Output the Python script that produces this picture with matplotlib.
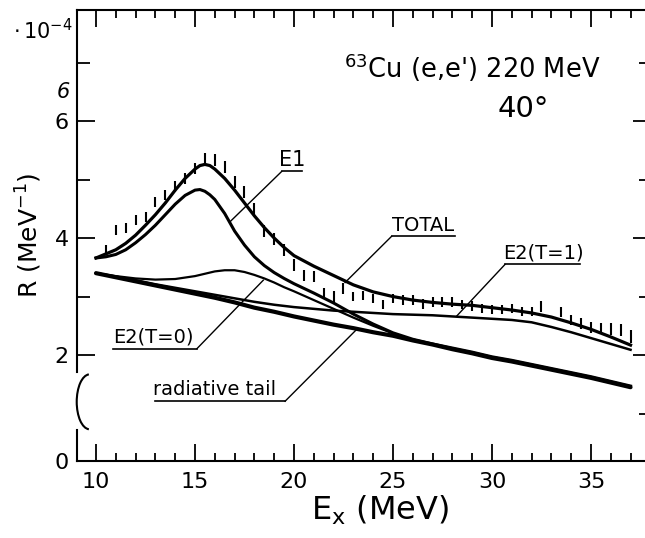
import numpy as np
import matplotlib.pyplot as plt
from matplotlib.patches import Arc

# excitation energy grids (MeV) and R values (units of 1e-4 MeV^-1)
e_fine = [10, 10.5, 11, 11.5, 12, 12.5, 13, 13.5, 14, 14.5, 15, 15.25, 15.5, 15.75, 16, 16.5,
          17, 17.5, 18, 18.5, 19, 19.5, 20, 21, 22, 23, 24, 25, 26, 27, 28, 29, 30, 31,
          32, 33, 34, 35, 36, 37]
r_total = [3.66, 3.73, 3.80, 3.91, 4.05, 4.22, 4.40, 4.60, 4.82, 5.02, 5.18, 5.24, 5.26, 5.24,
           5.18, 5.02, 4.82, 4.60, 4.38, 4.18, 4.00, 3.84, 3.70, 3.52, 3.36, 3.20, 3.08, 3.00,
           2.94, 2.90, 2.87, 2.85, 2.81, 2.77, 2.72, 2.65, 2.55, 2.44, 2.31, 2.17]
r_e1 = [3.66, 3.68, 3.72, 3.80, 3.92, 4.06, 4.22, 4.40, 4.58, 4.73, 4.82, 4.83, 4.80, 4.74,
        4.66, 4.42, 4.12, 3.88, 3.68, 3.53, 3.41, 3.31, 3.22, 3.06, 2.89, 2.70, 2.53, 2.38,
        2.27, 2.19, 2.12, 2.05, 1.97, 1.91, 1.84, 1.77, 1.70, 1.63, 1.55, 1.47]

e_int = [10, 11, 12, 13, 14, 15, 16, 17, 18, 19, 20, 21, 22, 23, 24, 25, 26, 27, 28, 29,
         30, 31, 32, 33, 34, 35, 36, 37]
r_tail = [3.40, 3.33, 3.26, 3.19, 3.12, 3.05, 2.98, 2.90, 2.81, 2.74, 2.66, 2.59, 2.52, 2.46,
          2.39, 2.33, 2.25, 2.18, 2.10, 2.03, 1.95, 1.89, 1.82, 1.75, 1.68, 1.61, 1.53, 1.45]
r_e2t1 = [3.40, 3.34, 3.28, 3.21, 3.15, 3.09, 3.03, 2.97, 2.91, 2.86, 2.82, 2.79, 2.76, 2.74,
          2.72, 2.70, 2.69, 2.68, 2.66, 2.64, 2.62, 2.60, 2.56, 2.48, 2.39, 2.29, 2.19, 2.09]

e_e2t0 = [10, 11, 12, 13, 14, 15, 15.5, 16, 16.5, 17, 17.5, 18, 18.5, 19, 19.5, 20, 21, 22,
          23, 24, 25, 26, 27, 28, 29, 30, 31, 32, 33, 34, 35, 36, 37]
r_e2t0 = [3.40, 3.35, 3.31, 3.29, 3.30, 3.35, 3.39, 3.43, 3.45, 3.45, 3.42, 3.37, 3.31, 3.24,
          3.16, 3.09, 2.94, 2.79, 2.64, 2.50, 2.37, 2.26, 2.18, 2.11, 2.04, 1.96, 1.90, 1.83,
          1.76, 1.69, 1.62, 1.54, 1.46]

# measured points (vertical bars only)
e_data = [10.5, 11, 11.5, 12, 12.5, 13, 13.5, 14, 14.5, 15, 15.5, 16, 16.5, 17, 17.5, 18,
          18.5, 19, 19.5, 20, 20.5, 21, 21.5, 22, 22.5, 23, 23.5, 24, 24.5, 25, 25.5, 26,
          26.5, 27, 27.5, 28, 28.5, 29, 29.5, 30, 30.5, 31, 31.5, 32, 32.5, 33.5, 34, 34.5,
          35, 35.5, 36, 36.5, 37]
r_data = [3.80, 4.14, 4.17, 4.31, 4.36, 4.62, 4.74, 4.88, 5.02, 5.19, 5.36, 5.33, 5.22, 4.96,
          4.79, 4.50, 4.12, 3.98, 3.80, 3.54, 3.36, 3.34, 3.06, 3.00, 3.14, 3.00, 3.02, 2.97,
          2.86, 2.97, 2.94, 2.94, 2.87, 2.91, 2.91, 2.91, 2.86, 2.84, 2.80, 2.78, 2.78, 2.80,
          2.74, 2.74, 2.83, 2.74, 2.60, 2.54, 2.47, 2.45, 2.45, 2.43, 2.31]
r_err = [0.08, 0.09, 0.09, 0.09, 0.09, 0.09, 0.09, 0.09, 0.10, 0.10, 0.10, 0.10, 0.10, 0.10,
         0.10, 0.10, 0.10, 0.10, 0.10, 0.10, 0.09, 0.09, 0.09, 0.09, 0.09, 0.08, 0.08, 0.08,
         0.08, 0.08, 0.08, 0.08, 0.08, 0.08, 0.08, 0.08, 0.08, 0.08, 0.08, 0.08, 0.08, 0.08,
         0.08, 0.08, 0.09, 0.09, 0.09, 0.09, 0.09, 0.09, 0.10, 0.10, 0.11]

x_major = [10, 15, 20, 25, 30, 35]
y_labels = ['0', '2', '4', '6']

fig = plt.figure(figsize=(6.45, 5.38), dpi=100)
ax = fig.add_axes([0.1194, 0.1431, 0.8806, 0.8383])
xmin, xmax = 9.04, 37.73
ymin, ymax = 0.188, 7.90
ax.set_xlim(xmin, xmax)
ax.set_ylim(ymin, ymax)

ax.plot(e_int, r_tail, color='k', lw=3.0, solid_capstyle='round')
ax.plot(e_int, r_e2t1, color='k', lw=1.8)
ax.plot(e_e2t0, r_e2t0, color='k', lw=1.6)
ax.plot(e_fine, r_e1, color='k', lw=2.2)
ax.plot(e_fine, r_total, color='k', lw=2.3)
ax.errorbar(e_data, r_data, yerr=r_err, fmt='none', ecolor='k', elinewidth=1.5, capsize=0)

# spines and ticks
for s in ['right', 'left']:
    ax.spines[s].set_visible(False)
ax.spines['top'].set_linewidth(1.5)
ax.spines['bottom'].set_linewidth(1.5)
ytr = ax.get_yaxis_transform()
ax.plot([0, 0], [ymin, 0.72], transform=ytr, color='k', lw=1.5, clip_on=False)
ax.plot([0, 0], [1.71, ymax], transform=ytr, color='k', lw=1.5, clip_on=False)
ax.add_patch(Arc((9.68, 1.20), 1.31, 0.94, theta1=95, theta2=265, color='k', lw=1.5,
                 clip_on=False))

ax.set_xticks(x_major)
ax.set_xticks(range(10, 38), minor=True)
ax.set_yticks([ymin, 2, 4, 6])
ax.set_yticklabels(y_labels)
ax.set_yticks([3, 5, 7], minor=True)
ax.tick_params(axis='x', which='both', direction='in', top=True, width=1.3, labelsize=16,
               pad=8)
ax.tick_params(axis='x', which='major', length=12)
ax.tick_params(axis='x', which='minor', length=6)
ax.tick_params(axis='y', which='both', direction='in', right=False, width=1.3, labelsize=16,
               pad=6)
ax.tick_params(axis='y', which='major', length=13)
ax.tick_params(axis='y', which='minor', length=9)

ax2 = ax.twinx()
ax2.set_ylim(ymin, ymax)
for s in ax2.spines.values():
    s.set_visible(False)
ax2.set_yticks([2, 4, 6])
ax2.set_yticks([1, 3, 5, 7], minor=True)
ax2.tick_params(axis='y', which='both', direction='in', width=1.3, labelright=False)
ax2.tick_params(axis='y', which='major', length=9)
ax2.tick_params(axis='y', which='minor', length=4)

ax.set_xlabel(r'E$_{\mathrm{x}}$ (MeV)', fontsize=23)
ax.xaxis.set_label_coords(0.533, -0.072)
ax.set_ylabel(r'R (MeV$^{-1}$)', fontsize=18)
ax.yaxis.set_label_coords(-0.058, 0.50)

ax.text(-0.06, 0.955, r'$\cdot\,10^{-4}$', transform=ax.transAxes, fontsize=15,
        ha='center', va='center')
ax.text(8.35, 6.5, '6', fontsize=15, style='italic', ha='center', va='center', clip_on=False)

ax.text(29.0, 6.92, r"$^{63}$Cu (e,e') 220 MeV", fontsize=18.5, ha='center', va='center')
ax.text(31.6, 6.2, '40°', fontsize=21, ha='center', va='center')

# labels with underline and pointer
labels = [
    ('E1', 19.9, 5.14, 19.38, 20.39, 16.77, 4.28, 'left', 15),
    ('TOTAL', 26.5, 4.03, 24.93, 28.13, 22.58, 3.24, 'left', 14),
    ('E2(T=1)', 32.6, 3.55, 30.66, 34.44, 28.2, 2.66, 'left', 14),
    ('E2(T=0)', 12.9, 2.11, 10.86, 15.10, 18.45, 3.28, 'right', 14),
    ('radiative tail', 16.0, 1.21, 12.98, 19.55, 23.2, 2.45, 'right', 14),
]
for txt, tx, uy, ux0, ux1, px, py, side, fs in labels:
    ax.text(tx, uy + 0.03, txt, fontsize=fs, ha='center', va='bottom')
    ax.plot([ux0, ux1], [uy, uy], color='k', lw=1.2)
    sx = ux0 if side == 'left' else ux1
    ax.plot([sx, px], [uy, py], color='k', lw=1.0)

fig.savefig('out.png', dpi=100)
